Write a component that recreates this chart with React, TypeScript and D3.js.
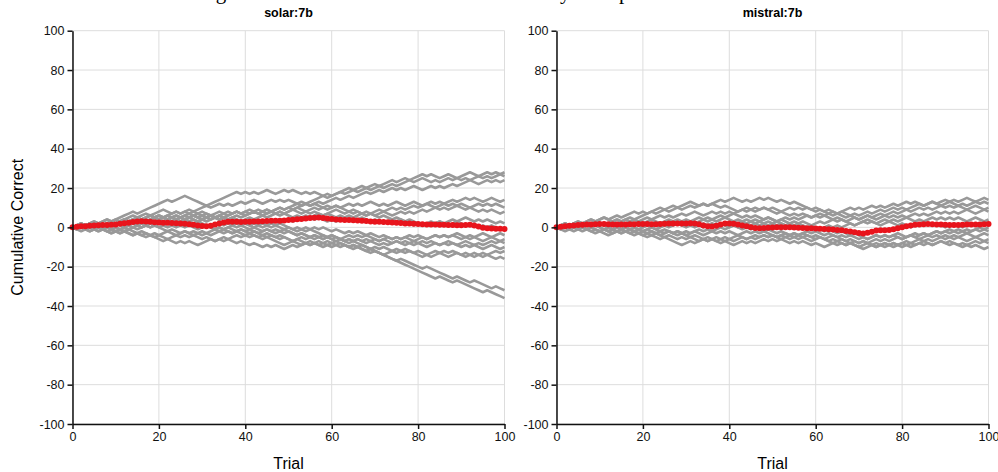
import { useEffect, useRef } from "react";
import * as d3 from "d3";

const panelTitles = ["solar:7b", "mistral:7b"];
const xTicks = [0, 20, 40, 60, 80, 100];
const yTicks = [-100, -80, -60, -40, -20, 0, 20, 40, 60, 80, 100];
const chartTitle = "Running Cumulative Correct Across All Trials by Group";

// one string per run, one char per trial: 1 = correct (+1), 0 = wrong (-1)
const solarRuns = [
  "1011010110 1101101101 0100101001 1011011101 0110101101 1101111101 1111011011 0111011011 1010011001 1100110101",
  "1101101101 1111011111 1101110000 0111111101 0101100110 1001010010 1101101101 1011011101 1001011010 1011010110",
  "0110101101 1100110101 1011011101 0011010100 1101101101 0111011011 1011011101 1011010110 0110101101 1100110101",
  "1101101101 0111011011 1001010010 0100101001 1011011101 1100110101 1011010110 0101100110 0110101101 1010011001",
  "1100110101 1011011101 0011010100 1101101101 1001010010 0100101001 0111011011 1011010110 1100110101 0011010100",
  "0100101001 1101101101 1011011101 0100100001 0110101101 0111011011 1001010010 1100110101 1011010110 0100101001",
  "1011010110 0011010100 1101101101 0110101101 1100110101 1001010010 0100101001 0011010100 0110101101 1001010010",
  "1001011010 0010010010 1100110101 0111011011 0100101001 0011010100 1001010010 0100101001 1011010110 0101100110",
  "0011010100 1000100100 0100101001 1101101101 1001010010 0110101101 0011010100 0100101001 1010011001 1001011010",
  "1100110101 1011010110 1001010010 0011010100 0100101001 0010010010 1001010010 0101100110 0011010100 1010011001",
  "0100101001 0111011011 0011010100 1000100100 0100100001 1001010010 1010011001 0100101001 0011010100 0110101101",
  "0110101101 1001010010 0010010010 1011010110 1000100100 0100101001 0100100001 0011010100 0101100110 1001010010",
  "1010011001 0110101101 0100101001 1001010010 0101100110 0010010010 0000100010 0000010000 0100000010 0010000100",
  "1011010110 1100110101 0110101101 1000100100 0011010100 0100100001 0001000000 0000000000 0000100010 0000010000",
  "1001010010 0100101001 0011010100 1001010010 0100101001 1011010110 1100110101 0110101101 0011010100 1010011001",
  "0110101101 1101101101 0111011011 1011010110 1100110101 0010010010 1000100100 0100100001 0101100110 0100101001",
];

const mistralRuns = [
  "1011010110 0111011011 1101101101 1011011101 1001011010 0100100001 0010010010 1101101101 0111011011 0101100110",
  "1101101101 1011011101 0111011011 1001010010 0011010100 0100101001 1011011101 0110101101 1010011001 1001011010",
  "1100110101 0110101101 1011010110 1100110101 0110101101 0011010100 1000100100 1101101101 1011010110 1010011001",
  "0100101001 1011011101 1100110101 0110101101 1001010010 0100101001 1011010110 1100110101 0110101101 0101100110",
  "0110101101 0011010100 1100110101 1011010110 0100101001 1001010010 0110101101 1100110101 1001011010 1010011001",
  "0101100110 0100101001 1101101101 0011010100 1001010010 0100101001 0011010100 1011010110 0110101101 1001011010",
  "1100110101 0010010010 1001010010 0100101001 0110101101 0011010100 1001010010 1011010110 1100110101 0101100110",
  "0011010100 1001010010 0100100001 1011010110 1100110101 0100101001 1000100100 0110101101 1011010110 1010011001",
  "1001011010 0011010100 0010010010 1001010010 0110101101 0100101001 0011010100 1100110101 0101100110 1001011010",
  "1011010110 0100101001 1000100100 1100110101 0011010100 0110101101 0010000100 1001010010 1011010110 0100101001",
  "1001010010 0011010100 1100110101 0110101101 1011010110 0100101001 0010010010 0011010100 1101101101 0110101101",
  "1101101101 1001010010 0011010100 1100110101 1011010110 0110101101 0100100001 1010011001 0011010100 1100110101",
];

// mean cumulative correct per trial (0..100)
const solarMean = [
  0, 0.3, 0.5, 0.6, 0.8, 1.0, 1.1, 1.2, 1.2, 1.3, 1.5,
  1.8, 2.1, 2.4, 2.7, 3.0, 3.1, 3.0, 2.8, 2.6, 2.5,
  2.4, 2.3, 2.2, 2.1, 2.0, 1.8, 1.6, 1.3, 1.0, 0.7,
  0.5, 0.8, 1.4, 2.0, 2.5, 2.8, 2.9, 2.8, 2.7, 2.8,
  2.9, 3.0, 3.0, 3.1, 3.2, 3.3, 3.3, 3.4, 3.5, 3.7,
  3.9, 4.1, 4.3, 4.5, 4.7, 4.9, 5.0, 4.8, 4.5, 4.2,
  4.0, 3.9, 3.8, 3.7, 3.6, 3.5, 3.3, 3.2, 3.0, 2.9,
  2.8, 2.7, 2.6, 2.5, 2.3, 2.2, 2.0, 1.9, 1.8, 1.7,
  1.6, 1.5, 1.5, 1.4, 1.3, 1.3, 1.2, 1.2, 1.1, 1.1,
  1.2, 1.3, 1.0, 0.4, -0.2, -0.5, -0.6, -0.7, -0.7, -0.8,
];

const mistralMean = [
  0, 0.3, 0.6, 0.8, 1.0, 1.2, 1.3, 1.4, 1.5, 1.6, 1.7,
  1.7, 1.6, 1.5, 1.5, 1.4, 1.5, 1.6, 1.6, 1.7, 1.7,
  1.7, 1.6, 1.6, 1.7, 1.8, 1.9, 1.9, 1.9, 2.0, 2.0,
  2.1, 2.0, 1.6, 1.0, 0.5, 0.4, 0.8, 1.4, 1.9, 2.0,
  1.8, 1.4, 1.0, 0.5, 0.1, -0.3, -0.4, -0.3, -0.2, -0.1,
  0.0, 0.1, 0.1, 0.0, -0.1, -0.2, -0.3, -0.4, -0.5, -0.6,
  -0.7, -0.8, -1.0, -1.1, -1.3, -1.5, -1.8, -2.1, -2.5, -2.9,
  -3.1, -2.8, -2.2, -1.6, -1.5, -1.5, -1.4, -1.0, -0.5, 0.0,
  0.6, 1.0, 1.3, 1.5, 1.6, 1.7, 1.6, 1.5, 1.4, 1.3,
  1.2, 1.2, 1.2, 1.3, 1.4, 1.4, 1.5, 1.5, 1.6, 1.7,
];

const panels = [
  { title: panelTitles[0], runs: solarRuns, mean: solarMean },
  { title: panelTitles[1], runs: mistralRuns, mean: mistralMean },
];

function cumulate(run: string) {
  const steps = run.replace(/\s/g, "").split("");
  const out = [0];
  steps.forEach((c) => out.push(out[out.length - 1] + (c === "1" ? 1 : -1)));
  return out;
}

export default function App() {
  const ref = useRef<SVGSVGElement>(null);

  useEffect(() => {
    const svg = d3.select(ref.current);
    svg.selectAll("*").remove();

    const width = 998;
    const height = 472;
    const font = "'Liberation Sans', Arial, Helvetica, sans-serif";
    const panelLeft = [72.5, 556.5];
    const panelWidth = 432;
    const top = 30.7;
    const bottom = 424;

    svg.attr("width", width).attr("height", height);

    // figure title, mostly above the visible area (only descenders show)
    svg.append("text")
      .attr("x", 154)
      .attr("y", -1.5)
      .attr("font-family", "'Liberation Serif', 'DejaVu Serif', serif")
      .attr("font-size", 21)
      .attr("fill", "#000")
      .text(chartTitle);

    const y = d3.scaleLinear().domain([-100, 100]).range([bottom, top]);

    svg.append("text")
      .attr("transform", `translate(23,${(top + bottom) / 2}) rotate(-90)`)
      .attr("text-anchor", "middle")
      .attr("font-family", font)
      .attr("font-size", 16)
      .attr("fill", "#000")
      .text("Cumulative Correct");

    panels.forEach((p, i) => {
      const x0 = panelLeft[i];
      const x = d3.scaleLinear().domain([0, 100]).range([x0, x0 + panelWidth]);
      const g = svg.append("g");

      // grid
      g.append("g")
        .selectAll("line")
        .data(yTicks)
        .enter()
        .append("line")
        .attr("x1", x(0)).attr("x2", x(100))
        .attr("y1", (d) => y(d)).attr("y2", (d) => y(d))
        .attr("stroke", "#ddd").attr("stroke-width", 1);
      g.append("g")
        .selectAll("line")
        .data(xTicks)
        .enter()
        .append("line")
        .attr("x1", (d) => x(d)).attr("x2", (d) => x(d))
        .attr("y1", y(-100)).attr("y2", y(100))
        .attr("stroke", "#ddd").attr("stroke-width", 1);

      const line = d3.line<number>()
        .x((_, j) => x(j))
        .y((d) => y(d));

      // individual runs
      g.append("g")
        .selectAll("path")
        .data(p.runs.map(cumulate))
        .enter()
        .append("path")
        .attr("d", (d) => line(d))
        .attr("fill", "none")
        .attr("stroke", "#999")
        .attr("stroke-width", 2.6)
        .attr("stroke-linejoin", "round");

      // mean
      g.append("path")
        .attr("d", line(p.mean))
        .attr("fill", "none")
        .attr("stroke", "#e8141c")
        .attr("stroke-width", 3);
      g.append("g")
        .selectAll("circle")
        .data(p.mean)
        .enter()
        .append("circle")
        .attr("cx", (_, j) => x(j))
        .attr("cy", (d) => y(d))
        .attr("r", 3)
        .attr("fill", "#e8141c");

      // axes
      const xAxis = g.append("g")
        .attr("transform", `translate(0,${bottom})`)
        .call(d3.axisBottom(x).tickValues(xTicks).tickFormat((d) => String(d)).tickSize(5).tickSizeOuter(0).tickPadding(3));
      const yAxis = g.append("g")
        .attr("transform", `translate(${x0},0)`)
        .call(d3.axisLeft(y).tickValues(yTicks).tickFormat((d) => String(d)).tickSize(5).tickSizeOuter(0).tickPadding(3));
      [xAxis, yAxis].forEach((a) => {
        a.selectAll("path, line").attr("stroke", "#111").attr("stroke-width", 1.5);
        a.selectAll("text")
          .attr("font-family", font)
          .attr("font-size", 12.5)
          .attr("fill", "#111");
      });

      g.append("text")
        .attr("x", x(50))
        .attr("y", 17)
        .attr("text-anchor", "middle")
        .attr("font-family", font)
        .attr("font-size", 12.5)
        .attr("font-weight", "bold")
        .attr("fill", "#000")
        .text(p.title);

      g.append("text")
        .attr("x", x(50))
        .attr("y", 469)
        .attr("text-anchor", "middle")
        .attr("font-family", font)
        .attr("font-size", 16)
        .attr("fill", "#000")
        .text("Trial");
    });
  }, []);

  return (
    <svg ref={ref} style={{ position: "absolute", left: 0, top: 0, display: "block" }}></svg>
  );
}
